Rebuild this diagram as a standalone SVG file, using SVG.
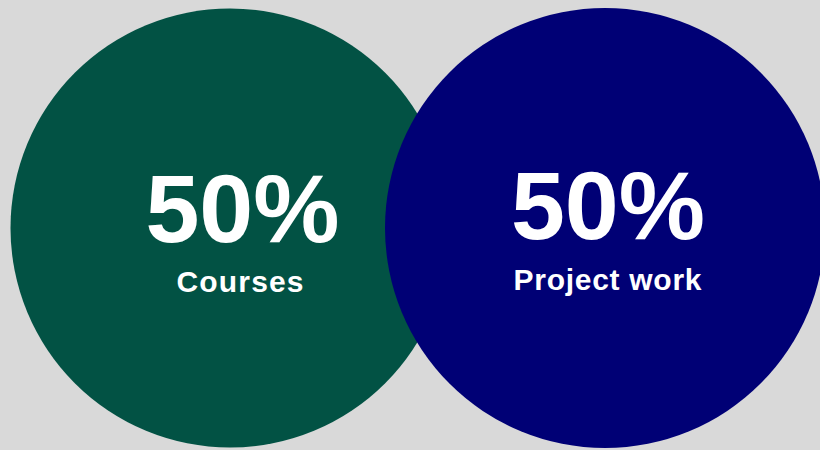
<svg xmlns="http://www.w3.org/2000/svg" width="820" height="450" viewBox="0 0 820 450">
<style>
.big{font-family:"Liberation Sans",Arial,sans-serif;font-weight:bold;font-size:97px;fill:#fff;text-anchor:middle}
.lbl{font-family:"Liberation Sans",Arial,sans-serif;font-weight:bold;font-size:30px;fill:#fff;text-anchor:middle}
</style>
<rect width="820" height="450" fill="#d9d9d9"/>
<g id="courses">
<circle cx="230" cy="228" r="219.5" fill="#025244"/>
<text class="big" x="242.5" y="242">50%</text>
<text class="lbl" x="240" y="292" textLength="127" lengthAdjust="spacing">Courses</text>
</g>
<g id="project">
<circle cx="605" cy="228" r="220" fill="#000075"/>
<text class="big" x="608" y="239">50%</text>
<text class="lbl" x="607.5" y="290" textLength="188" lengthAdjust="spacing">Project work</text>
</g>
<g id="connectors"/>
</svg>
